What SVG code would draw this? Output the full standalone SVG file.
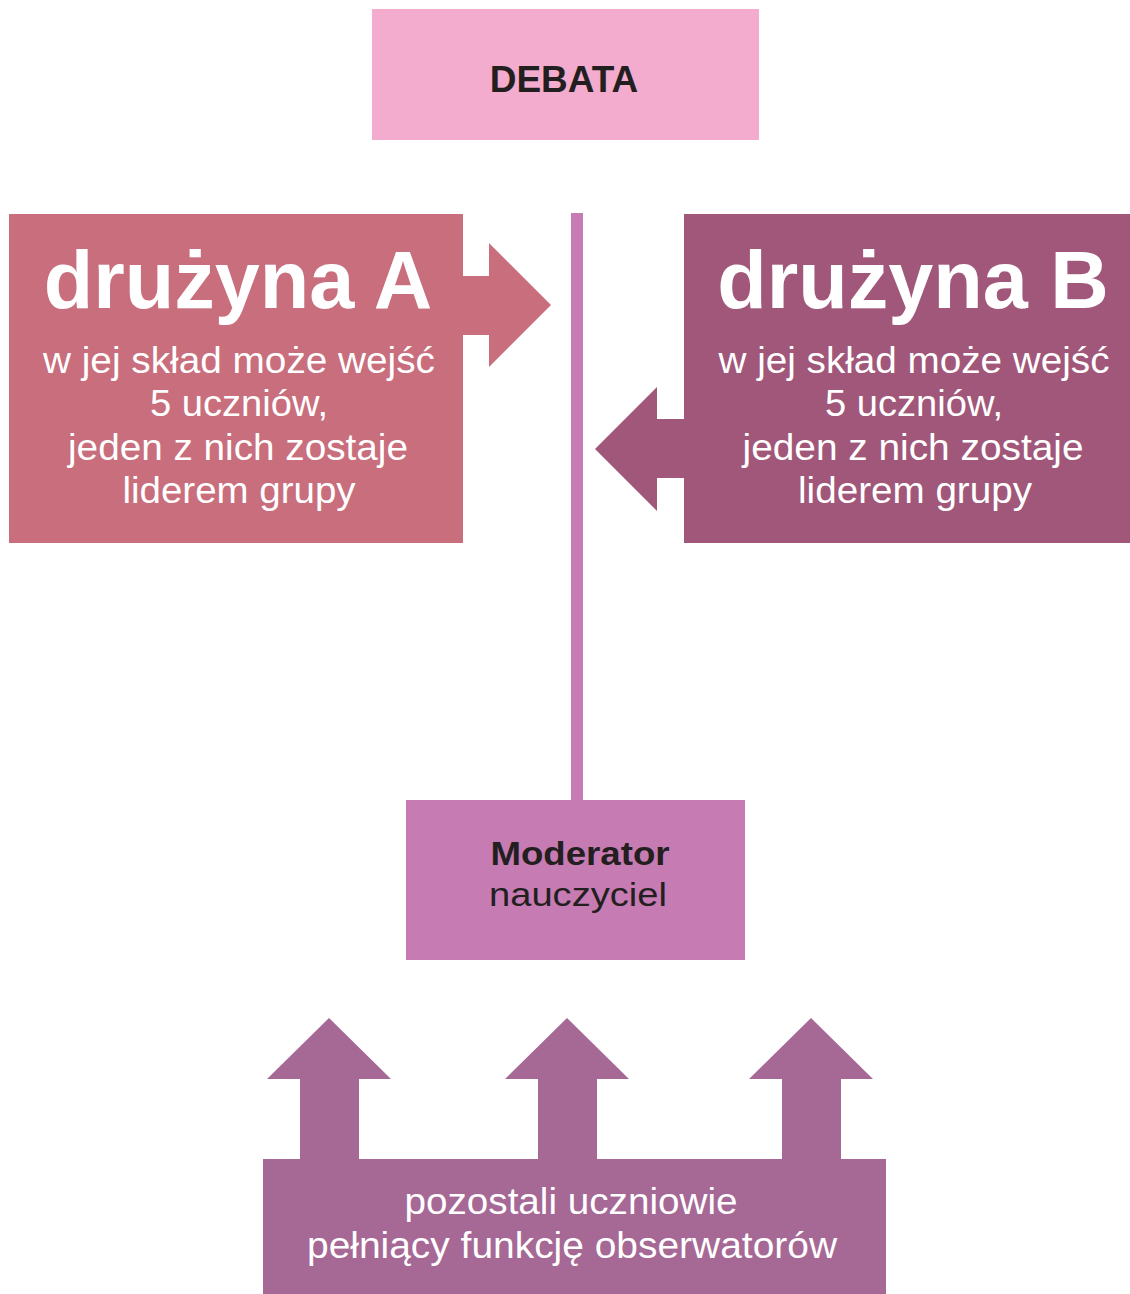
<svg xmlns="http://www.w3.org/2000/svg" width="1130" height="1294" viewBox="0 0 1130 1294">
<style>
  text { font-family: "Liberation Sans", Arial, sans-serif; text-anchor: middle; }
  .dark { fill: #231F20; }
  .white { fill: #FFFFFF; }
  .b { font-weight: bold; }
  .title { font-size: 81px; font-weight: bold; fill: #FFFFFF; }
  .sub { font-size: 36px; fill: #FFFFFF; }
</style>
<rect width="1130" height="1294" fill="#FFFFFF"/>
<g id="connectors">
  <rect x="571" y="213" width="12" height="588" fill="#C77BB3"/>
  <polygon points="460,276 489,276 489,243 551,305 489,367 489,335 460,335" fill="#C86E7D"/>
  <polygon points="688,419 657,419 657,387 595,449 657,511 657,478 688,478" fill="#A15779"/>
  <polygon points="300,1162 300,1079 267,1079 329,1018 391,1079 359,1079 359,1162" fill="#A66895"/>
  <polygon points="538,1162 538,1079 505,1079 567,1018 629,1079 597,1079 597,1162" fill="#A66895"/>
  <polygon points="782,1162 782,1079 749,1079 811,1018 873,1079 841,1079 841,1162" fill="#A66895"/>
</g>
<g id="debata">
  <rect x="372" y="9" width="387" height="131" fill="#F3ACCE"/>
  <text x="564" y="92" class="dark b" font-size="37">DEBATA</text>
</g>
<g id="druzyna-a">
  <rect x="9" y="214" width="454" height="329" fill="#C86E7D"/>
  <text x="238" y="308" class="title">drużyna A</text>
  <text x="239" y="373" class="sub" textLength="392" lengthAdjust="spacingAndGlyphs">w jej skład może wejść</text>
  <text x="239" y="416" class="sub" textLength="178" lengthAdjust="spacingAndGlyphs">5 uczniów,</text>
  <text x="238" y="460" class="sub" textLength="340" lengthAdjust="spacingAndGlyphs">jeden z nich zostaje</text>
  <text x="239" y="503" class="sub" textLength="233" lengthAdjust="spacingAndGlyphs">liderem grupy</text>
</g>
<g id="druzyna-b">
  <rect x="684" y="214" width="446" height="329" fill="#A15779"/>
  <text x="913" y="308" class="title">drużyna B</text>
  <text x="914" y="373" class="sub" textLength="391" lengthAdjust="spacingAndGlyphs">w jej skład może wejść</text>
  <text x="914" y="416" class="sub" textLength="178" lengthAdjust="spacingAndGlyphs">5 uczniów,</text>
  <text x="913" y="460" class="sub" textLength="341" lengthAdjust="spacingAndGlyphs">jeden z nich zostaje</text>
  <text x="915" y="503" class="sub" textLength="234" lengthAdjust="spacingAndGlyphs">liderem grupy</text>
</g>
<g id="moderator">
  <rect x="406" y="800" width="339" height="160" fill="#C77BB3"/>
  <text x="580" y="865" class="dark b" font-size="34" textLength="179" lengthAdjust="spacingAndGlyphs">Moderator</text>
  <text x="578" y="906" class="dark" font-size="34" textLength="178" lengthAdjust="spacingAndGlyphs">nauczyciel</text>
</g>
<g id="obserwatorzy">
  <rect x="263" y="1159" width="623" height="135" fill="#A66895"/>
  <text x="571" y="1214" class="white" font-size="36" textLength="333" lengthAdjust="spacingAndGlyphs">pozostali uczniowie</text>
  <text x="572" y="1258" class="white" font-size="36" textLength="530" lengthAdjust="spacingAndGlyphs">pełniący funkcję obserwatorów</text>
</g>
</svg>
